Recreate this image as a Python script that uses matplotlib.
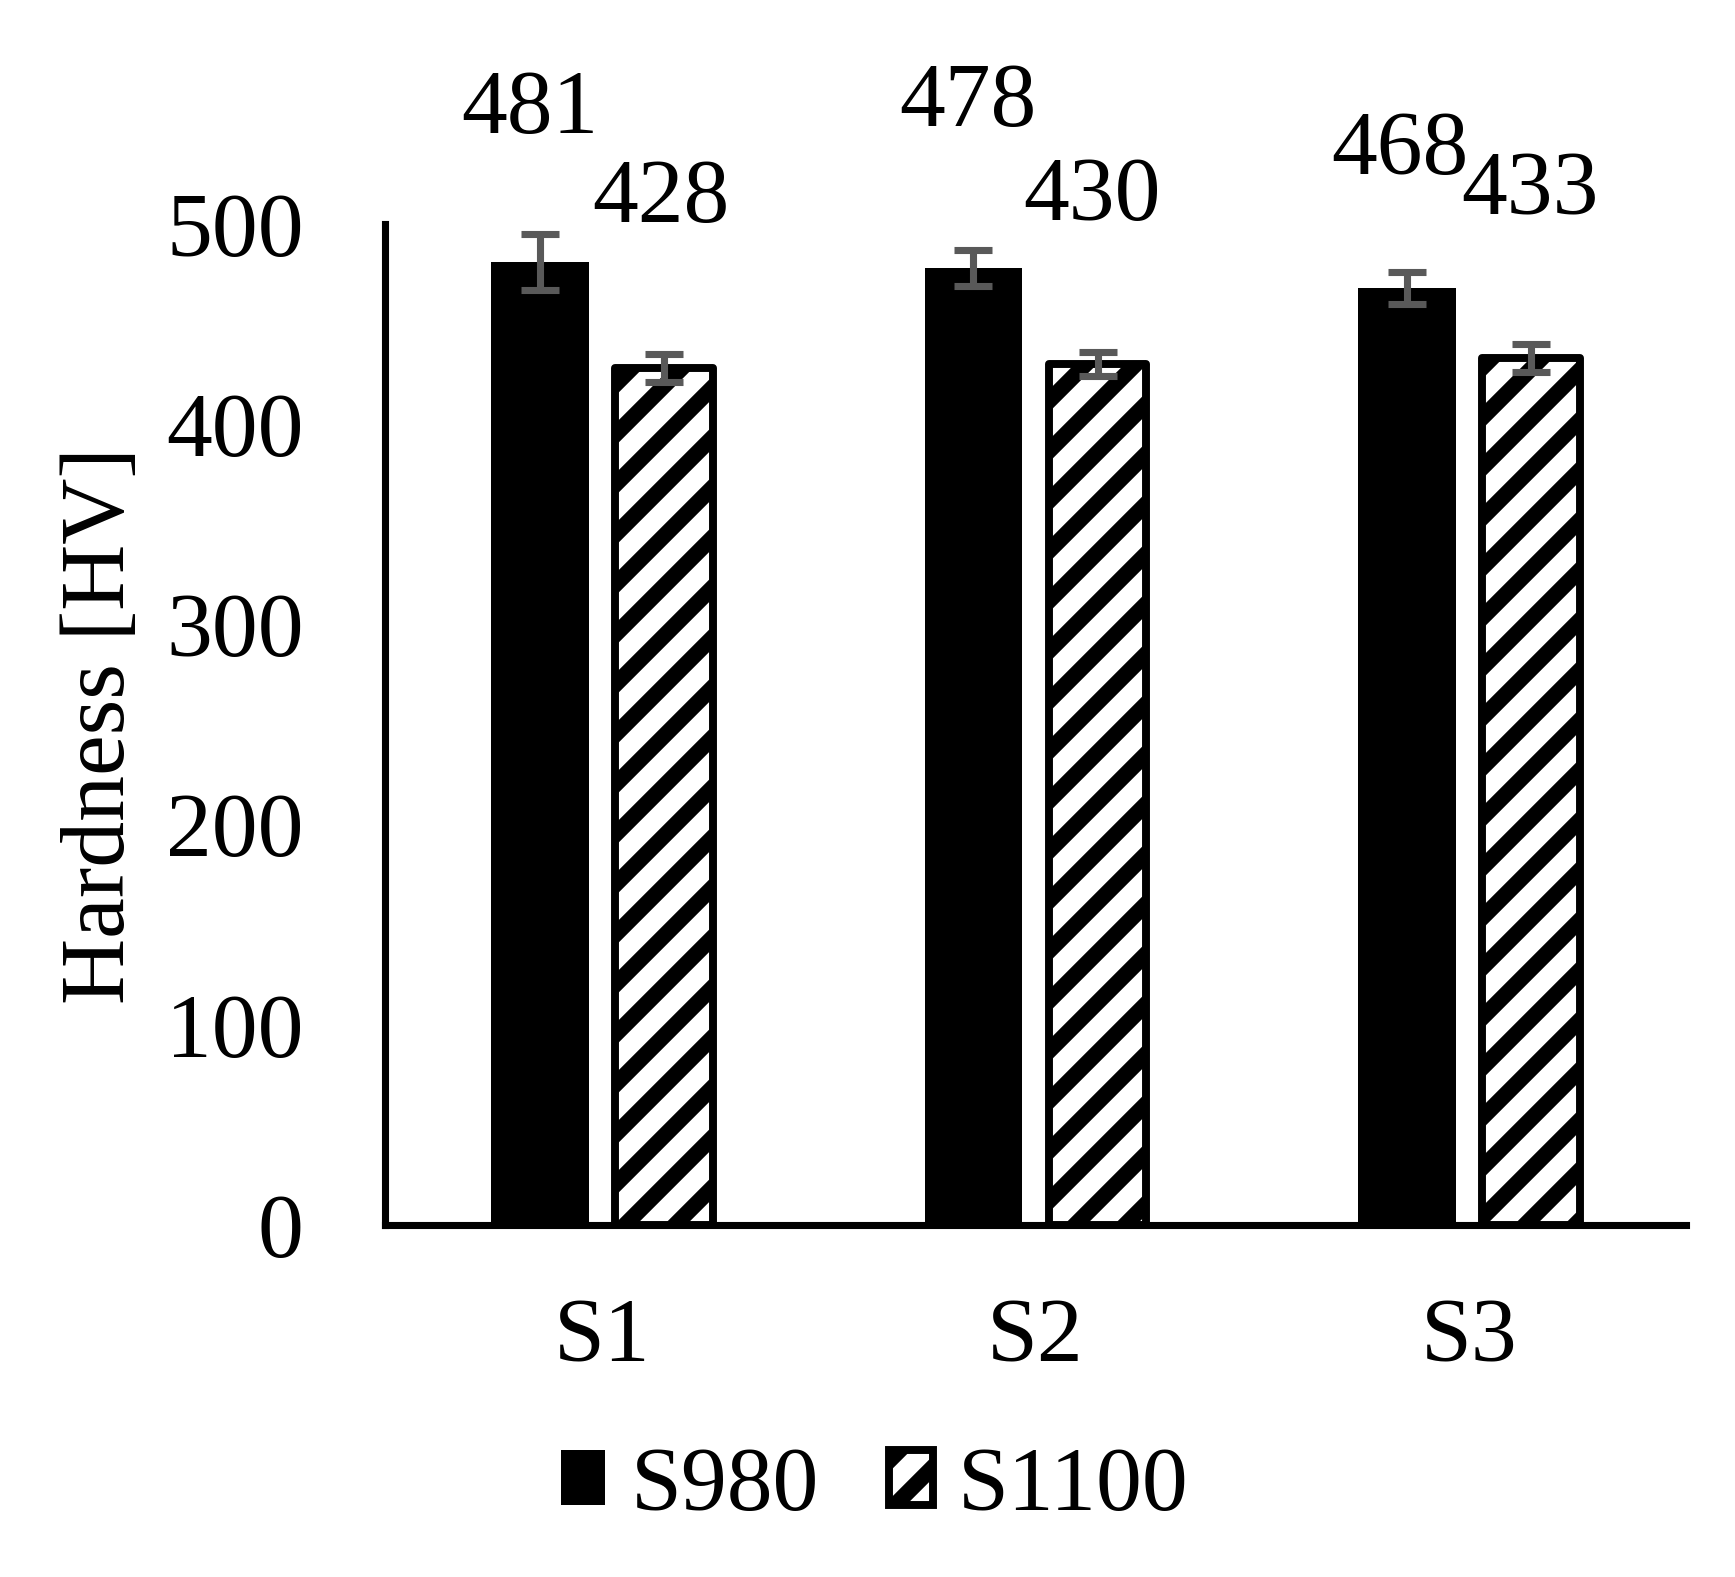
import numpy as np
import matplotlib
matplotlib.use("Agg")
import matplotlib.pyplot as plt
from matplotlib.patches import Patch

# data
samples = ["S1", "S2", "S3"]
series = ["S980", "S1100"]
s980 = [481, 478, 468]
s1100 = [428, 430, 433]
s980_err = [14, 9, 8]
s1100_err = [7, 6, 7]

# label positions (offset above bar top, in HV) - labels were dragged by hand
s980_lbl_dy = [75.5, 82, 68]
s1100_lbl_dy = [84, 83, 83]
s980_lbl_dx = [-0.023, -0.012, -0.017]
s1100_lbl_dx = [-0.007, -0.012, -0.003]

DPI = 300
plt.rcParams["font.family"] = ["Liberation Serif", "DejaVu Serif"]
plt.rcParams["hatch.linewidth"] = 3.8
plt.rcParams["hatch.color"] = "black"

fig = plt.figure(figsize=(1735 / DPI, 1577 / DPI), dpi=DPI)
ax = fig.add_axes([385 / 1735, 1 - 1225 / 1577, (1686 - 385) / 1735, (1225 - 224) / 1577])

x = np.arange(len(samples))
off = 0.143
w = 0.225
fs = 22

ax.bar(x - off, s980, w, color="black", edgecolor="black", linewidth=0)
ax.bar(x + off, s1100, w, color="white", edgecolor="black", linewidth=1.9,
       hatch="//", joinstyle="round")

# error bars
ek = dict(fmt="none", ecolor="#595959", elinewidth=1.7, capsize=4.6, capthick=1.7)
ax.errorbar(x - off, s980, yerr=s980_err, **ek)
ax.errorbar(x + off, s1100, yerr=s1100_err, **ek)

# value labels
for i in range(len(samples)):
    ax.text(x[i] - off + s980_lbl_dx[i], s980[i] + s980_lbl_dy[i], str(s980[i]),
            ha="center", va="center", fontsize=fs, clip_on=False)
    ax.text(x[i] + off + s1100_lbl_dx[i], s1100[i] + s1100_lbl_dy[i], str(s1100[i]),
            ha="center", va="center", fontsize=fs, clip_on=False)

ax.set_xlim(-0.5, 2.5)
ax.set_ylim(0, 500)
ax.set_yticks(range(0, 501, 100))
ax.set_xticks(x)
ax.set_xticklabels(samples)
ax.tick_params(axis="both", length=0, labelsize=fs)
ax.tick_params(axis="y", pad=19.5)
ax.tick_params(axis="x", pad=17.5)

for s in ["top", "right"]:
    ax.spines[s].set_visible(False)
for s in ["left", "bottom"]:
    ax.spines[s].set_linewidth(1.7)

fig.text(102 / 1735, 1 - 726 / 1577, "Hardness [HV]", rotation=90,
         ha="center", va="center", fontsize=fs)

handles = [Patch(facecolor="black", edgecolor="black", linewidth=0),
           Patch(facecolor="white", edgecolor="black", linewidth=1.9, hatch="//",
                 joinstyle="round")]
fig.legend(handles, series, loc="center", bbox_to_anchor=(875 / 1735, 1 - 1488 / 1577),
           ncol=2, frameon=False, fontsize=fs, handlelength=0.48, handleheight=0.54,
           handletextpad=0.28, columnspacing=0.76, borderaxespad=0)

fig.savefig("out.png", dpi=DPI)
